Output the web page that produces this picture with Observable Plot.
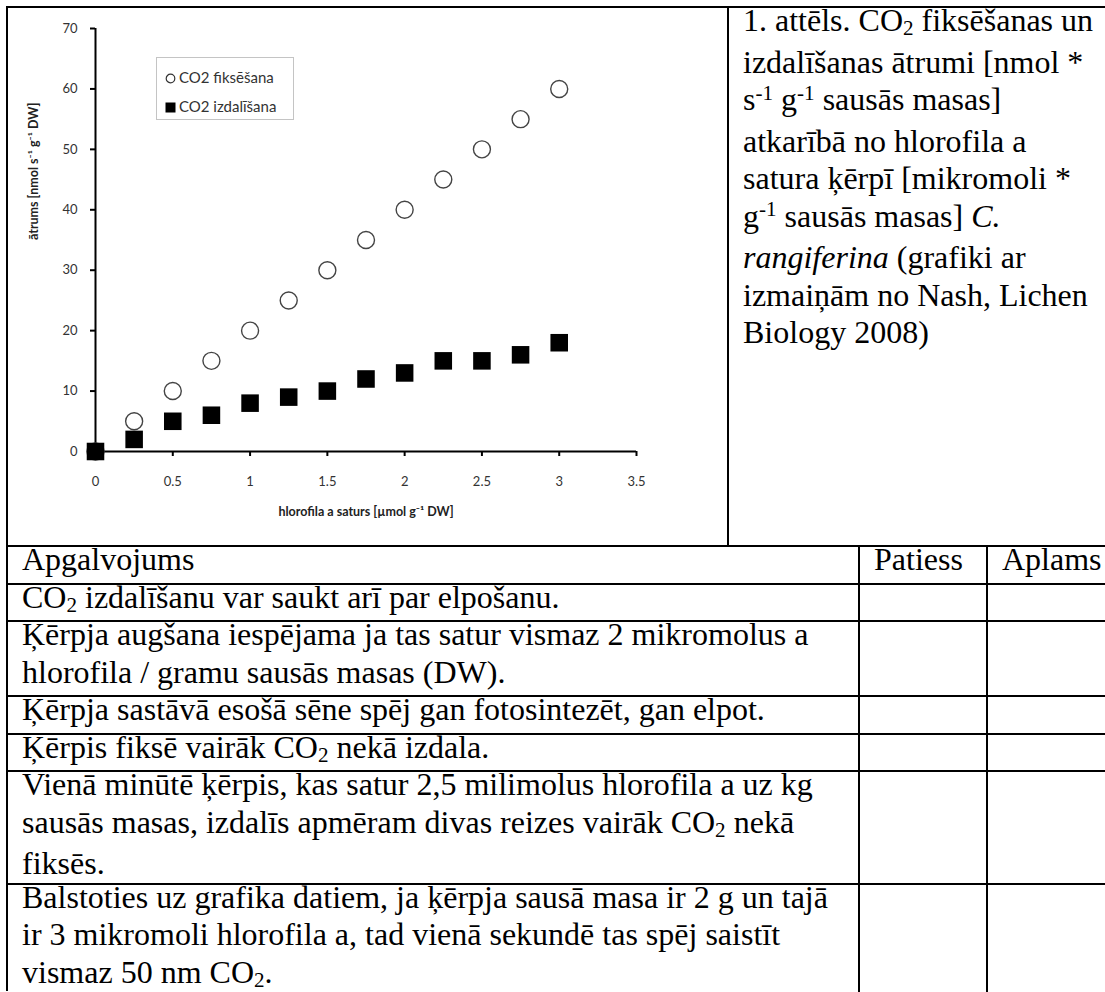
<!DOCTYPE html>
<html>
<head>
<meta charset="utf-8">
<script src="https://cdn.jsdelivr.net/npm/d3@7"></script>
<script src="https://cdn.jsdelivr.net/npm/@observablehq/plot@0.6"></script>
<style>
  body { margin: 0; background: #fff; }
  #page { position: relative; width: 1105px; height: 992px; overflow: hidden; background: #fff; color: #000; }
  #chart { position: absolute; left: 0; top: 0; }
  .hl { position: absolute; height: 2px; background: #000; }
  .vl { position: absolute; width: 2px; background: #000; }
  .txt { position: absolute; font-family: 'Liberation Serif', Tinos, 'DejaVu Serif', serif;
         font-size: 32px; line-height: 37.55px; white-space: nowrap; }
  .sub { font-size: 0.66em; position: relative; top: 0.2em; }
  .sup { font-size: 0.66em; position: relative; top: -0.5em; }
  #legend { position: absolute; left: 156px; top: 57px; width: 136px; height: 61px;
            border: 1px solid #c4c4c4; background: #fff;
            font-family: Lato, 'Open Sans', sans-serif; font-size: 15px; color: #333; }
  .lg { position: absolute; left: 8px; height: 18px; line-height: 18px; white-space: nowrap; transform: translateY(-50%); }
  .lg svg { vertical-align: -1px; margin-right: 3px; }
</style>
</head>
<body>
<div id="page"><div id="chart"></div></div>
<script>
// ---------- data ----------
const chlorophyll = [0, 0.25, 0.5, 0.75, 1, 1.25, 1.5, 1.75, 2, 2.25, 2.5, 2.75, 3];
const fixation    = [0, 5, 10, 15, 20, 25, 30, 35, 40, 45, 50, 55, 60];
const release     = [0, 2, 5, 6, 8, 9, 10, 12, 13, 15, 15, 16, 18];
const seriesNames = ["CO2 fiksēšana", "CO2 izdalīšana"];
const xTicks = [0, 0.5, 1, 1.5, 2, 2.5, 3, 3.5];
const yTicks = [0, 10, 20, 30, 40, 50, 60, 70];
const xLabel = "hlorofila a saturs [µmol g⁻¹ DW]";
const yLabel = "ātrums [nmol s⁻¹ g⁻¹ DW]";

const captionLines = [
  "1. attēls. CO_2 fiksēšanas un",
  "izdalīšanas ātrumi [nmol *",
  "s^-1 g^-1 sausās masas]",
  "atkarībā no hlorofila a",
  "satura ķērpī [mikromoli *",
  "g^-1 sausās masas] <i>C.</i>",
  "<i>rangiferina</i> (grafiki ar",
  "izmaiņām no Nash, Lichen",
  "Biology 2008)"
];
const tableHeader = ["Apgalvojums", "Patiess", "Aplams"];
const statements = [
  ["CO_2 izdalīšanu var saukt arī par elpošanu."],
  ["Ķērpja augšana iespējama ja tas satur vismaz 2 mikromolus a", "hlorofila / gramu sausās masas (DW)."],
  ["Ķērpja sastāvā esošā sēne spēj gan fotosintezēt, gan elpot."],
  ["Ķērpis fiksē vairāk CO_2 nekā izdala."],
  ["Vienā minūtē ķērpis, kas satur 2,5 milimolus hlorofila a uz kg", "sausās masas, izdalīs apmēram divas reizes vairāk CO_2 nekā", "fiksēs."],
  ["Balstoties uz grafika datiem, ja ķērpja sausā masa ir 2 g un tajā", "ir 3 mikromoli hlorofila a, tad vienā sekundē tas spēj saistīt", "vismaz 50 nm CO_2."]
];

(function () {
  // ---------- chart ----------
  const data = chlorophyll.map((x, i) => ({x, fix: fixation[i], rel: release[i]}));
  const font = "Lato, 'Open Sans', sans-serif";
  const plot = Plot.plot({
    width: 720, height: 546,
    marginLeft: 95, marginRight: 84, marginTop: 28, marginBottom: 95,
    style: {background: "transparent", fontFamily: font, fontSize: "13px", color: "#333", overflow: "visible"},
    x: {domain: [0, 3.5]},
    y: {domain: [0, 70]},
    marks: [
      Plot.axisX({ticks: xTicks, tickSize: 5, tickPadding: 20, stroke: "#000", strokeWidth: 2, fill: "#333",
                  tickFormat: d => String(d), label: null}),
      Plot.axisY({ticks: yTicks, tickSize: 5, tickPadding: 13, stroke: "#000", strokeWidth: 2, fill: "#333",
                  tickFormat: d => String(d), label: null}),
      Plot.ruleX([0], {stroke: "#000", strokeWidth: 2}),
      Plot.ruleY([0], {stroke: "#000", strokeWidth: 2}),
      Plot.text([yLabel], {frameAnchor: "left", rotate: -90, dx: -62, fontWeight: "bold", fontSize: 12.5, fill: "#222"}),
      Plot.text([xLabel], {frameAnchor: "bottom", dy: 64, fontWeight: "bold", fontSize: 12.5, fill: "#222"}),
      Plot.dot(data, {x: "x", y: "fix", r: 8.5, stroke: "#444", strokeWidth: 1.4, fill: "white"}),
      Plot.dot(data, {x: "x", y: "rel", symbol: "square", r: 9.9, fill: "#000", stroke: "none"})
    ]
  });
  document.getElementById("chart").append(plot);

  const page = document.getElementById("page");

  // ---------- legend ----------
  const legend = document.createElement("div");
  legend.id = "legend";
  seriesNames.forEach((name, i) => {
    const row = document.createElement("div");
    row.className = "lg";
    row.style.top = (i === 0 ? 19 : 48) + "px";
    const sym = i === 0
      ? '<svg width="11" height="11"><circle cx="5.5" cy="5.5" r="4.3" fill="#fff" stroke="#333" stroke-width="1.2"/></svg>'
      : '<svg width="11" height="11"><rect x="0.5" y="0.5" width="10" height="10" fill="#000"/></svg>';
    row.innerHTML = sym + name;
    legend.append(row);
  });
  page.append(legend);

  // ---------- caption + table ----------
  function fmt(s) {
    return s.replace(/_([0-9]+)/g, '<span class="sub">$1</span>')
            .replace(/\^(-?[0-9]+)/g, '<span class="sup">$1</span>');
  }
  function add(cls, css) {
    const d = document.createElement("div");
    d.className = cls;
    Object.assign(d.style, css);
    page.append(d);
    return d;
  }
  const LH = 37.55;
  const L = 7, R = 1105, T = 7, divider = 728, tableTop = 546;
  const col1 = 859, col2 = 987, pad = 15, lift = 5;

  const cap = add("txt", {left: (divider + pad) + "px", top: (T - 5) + "px"});
  cap.innerHTML = captionLines.map(fmt).join("<br>");

  let y = tableTop;
  const rowsY = [y];
  add("txt", {left: (L + pad) + "px", top: (y - lift) + "px"}).innerHTML = tableHeader[0];
  add("txt", {left: (col1 + pad) + "px", top: (y - lift) + "px"}).innerHTML = tableHeader[1];
  add("txt", {left: (col2 + pad) + "px", top: (y - lift) + "px"}).innerHTML = tableHeader[2];
  y += LH;
  rowsY.push(y);
  statements.forEach(lines => {
    const t = add("txt", {left: (L + pad) + "px", top: (y - lift) + "px"});
    t.innerHTML = lines.map(fmt).join("<br>");
    y += LH * lines.length;
    rowsY.push(y);
  });

  add("hl", {left: L + "px", top: (T - 1) + "px", width: (R - L) + "px"});
  rowsY.forEach(ry => add("hl", {left: L + "px", top: (ry - 1) + "px", width: (R - L) + "px"}));
  add("vl", {left: (L - 1) + "px", top: (T - 1) + "px", height: (992 - T) + "px"});
  add("vl", {left: (divider - 1) + "px", top: (T - 1) + "px", height: (tableTop - T) + "px"});
  add("vl", {left: (col1 - 1) + "px", top: tableTop + "px", height: (992 - tableTop) + "px"});
  add("vl", {left: (col2 - 1) + "px", top: tableTop + "px", height: (992 - tableTop) + "px"});
})();
</script>
</body>
</html>
